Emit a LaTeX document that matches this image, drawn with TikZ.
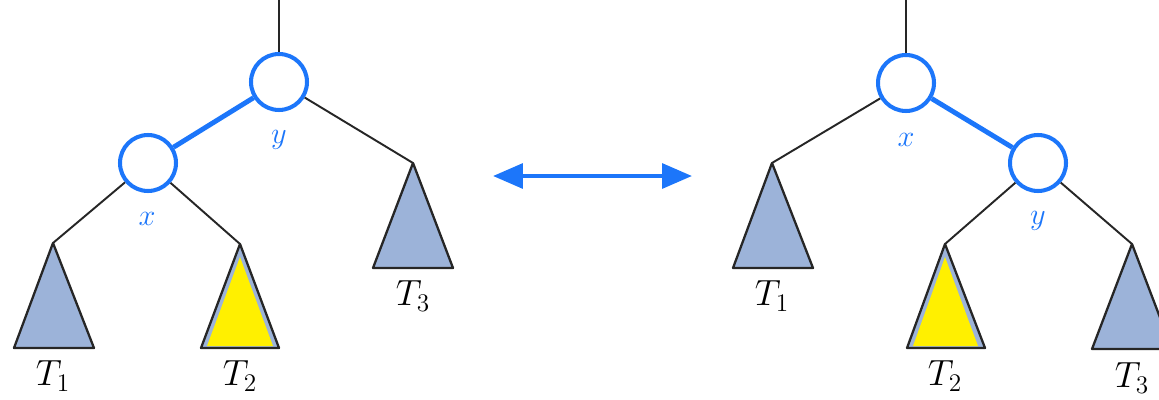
\documentclass[tikz,border=0pt]{standalone}
\usepackage{amsmath}
\usetikzlibrary{positioning, calc, arrows.meta}
\definecolor{nodeblue}{RGB}{28, 118, 250}
\definecolor{treefill}{RGB}{156, 179, 217}
\definecolor{hilite}{RGB}{255, 240, 0}

\begin{document}
\begin{tikzpicture}[x=0.02cm, y=-0.02cm,
    vert/.style={circle, draw=nodeblue, line width=2.3pt, fill=white, minimum size=1.12cm, inner sep=0pt},
    edge/.style={draw=black!85, line width=1.1pt},
    bedge/.style={draw=nodeblue, line width=2.8pt},
    tri/.style={draw=black!85, fill=treefill, line width=1.3pt, line join=round},
    lbl/.style={text=nodeblue, font=\fontsize{18}{22}\selectfont},
    tlbl/.style={font=\fontsize{20}{24}\selectfont},
    swap/.style={draw=nodeblue, line width=2.4pt, {Triangle[length=17pt, width=14pt]}-{Triangle[length=17pt, width=14pt]}}]
    \useasboundingbox (0,0) rectangle (1159,399);
    \clip (0,0) rectangle (1159,399);

    % Left tree: y above x
    \coordinate (ltop) at (279,0);
    \node[vert] (ly) at (279,82) {};
    \node[vert] (lx) at (148,163) {};
    \node[lbl] (lylab) at (279,140) {$y$};
    \node[lbl] (lxlab) at (147,219) {$x$};
    \coordinate (lt1) at (53,243);
    \coordinate (lt2) at (240,244);
    \coordinate (lt3) at (413,163);
    \draw[edge] (ltop) -- (ly);
    \draw[edge] (ly) -- (lt3);
    \draw[edge] (lx) -- (lt1);
    \draw[edge] (lx) -- (lt2);
    \draw[bedge] (ly) -- (lx);
    \draw[tri] (lt1) -- ++(-39,105) -- ++(80,0) -- cycle;
    \draw[tri] (lt2) -- ++(-39,104) -- ++(78,0) -- cycle;
    \fill[hilite] ($(lt2)+(0,13)$) -- ++(-33,89) -- ++(66,0) -- cycle;
    \draw[tri] (lt3) -- ++(-40,105) -- ++(80,0) -- cycle;
    \node[tlbl] (lt1lab) at (53,376) {$T_1$};
    \node[tlbl] (lt2lab) at (240,376) {$T_2$};
    \node[tlbl] (lt3lab) at (413,296) {$T_3$};

    % Rotation arrow
    \coordinate (arl) at (493,176);
    \coordinate (arr) at (692,176);
    \draw[swap] (arl) -- (arr);

    % Right tree: x above y
    \coordinate (rtop) at (906,0);
    \node[vert] (rx) at (906,83) {};
    \node[vert] (ry) at (1038,163) {};
    \node[lbl] (rxlab) at (906,140) {$x$};
    \node[lbl] (rylab) at (1038,221) {$y$};
    \coordinate (rt1) at (772,163);
    \coordinate (rt2) at (945,244);
    \coordinate (rt3) at (1132,244);
    \draw[edge] (rtop) -- (rx);
    \draw[edge] (rx) -- (rt1);
    \draw[edge] (ry) -- (rt2);
    \draw[edge] (ry) -- (rt3);
    \draw[bedge] (rx) -- (ry);
    \draw[tri] (rt1) -- ++(-39,105) -- ++(80,0) -- cycle;
    \draw[tri] (rt2) -- ++(-38,104) -- ++(78,0) -- cycle;
    \fill[hilite] ($(rt2)+(0,13)$) -- ++(-32,89) -- ++(65,0) -- cycle;
    \draw[tri] (rt3) -- ++(-40,105) -- ++(80,0) -- cycle;
    \node[tlbl] (rt1lab) at (772,296) {$T_1$};
    \node[tlbl] (rt2lab) at (945,376) {$T_2$};
    \node[tlbl] (rt3lab) at (1132,378) {$T_3$};
\end{tikzpicture}
\end{document}
